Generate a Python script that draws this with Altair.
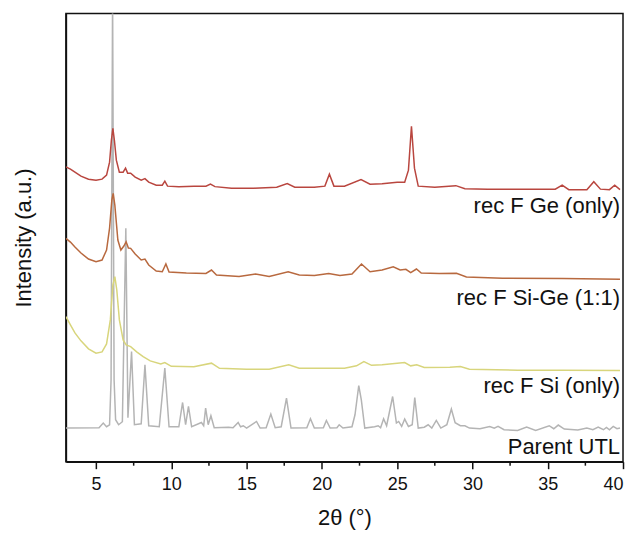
import altair as alt
import pandas as pd

# ---- data (2θ in degrees, stacked intensity in a.u.) ----
ge_x = [3.0, 3.3, 3.6, 4.0, 4.5, 5.0, 5.4, 5.7, 5.9, 6.02, 6.12, 6.22, 6.35, 6.55, 6.8, 6.96, 7.1, 7.3,
        7.6, 8.0, 8.25, 8.5, 9.0, 9.4, 9.57, 9.75, 10.5, 11.5, 12.3, 12.6, 12.9, 14.0, 15.5, 17.0, 17.7,
        18.2, 19.5, 20.2, 20.5, 20.8, 21.5, 22.6, 23.2, 24.0, 25.0, 25.5, 25.75, 25.95, 26.15, 26.4,
        27.5, 28.9, 29.5, 31.0, 33.0, 35.5, 35.96, 36.4, 37.6, 38.06, 38.5, 39.1, 39.45, 39.8]
ge_y = [295.3, 293, 290, 286, 283, 282, 283, 287, 300, 322, 334, 322, 302, 290, 290, 294, 289, 289,
        285, 282, 283.5, 280, 277, 277, 281, 276, 275.5, 276, 276, 278, 275.5, 274, 274, 275, 278.5,
        275, 275, 276, 288, 276, 276, 282.5, 278, 278.5, 280, 280, 292, 336, 294, 276,
        275, 276.5, 273.5, 273, 273, 273, 277, 272.5, 272.5, 280.5, 273, 272.5, 277, 272.5]

sige_x = [3.0, 3.3, 3.6, 4.0, 4.5, 5.0, 5.4, 5.7, 5.9, 6.05, 6.14, 6.25, 6.45, 6.65, 6.85, 7.0, 7.15,
          7.3, 7.6, 8.0, 8.25, 8.5, 9.0, 9.4, 9.64, 9.85, 11.0, 12.3, 12.67, 13.0, 14.5, 15.6, 16.5,
          17.76, 18.5, 19.5, 20.45, 21.2, 22.0, 22.63, 23.2, 24.0, 24.74, 25.2, 25.58, 25.9, 26.28,
          26.6, 27.8, 28.94, 29.6, 32.0, 36.0, 39.8]
sige_y = [223.7, 220, 215, 209, 203, 200.3, 202, 212, 234, 262, 268.7, 257, 222, 212, 216, 220.3, 214,
          213.7, 208, 202, 203, 197, 191, 190.3, 198, 190, 189, 188.5, 192, 187, 185.5, 188, 185.5,
          190.3, 187, 186.5, 188.5, 186.5, 188, 198, 190.3, 192, 195.3, 192, 192.7, 189.3, 193,
          189, 188.5, 188.7, 185, 183.7, 183.5, 182.7]

si_x = [3.0, 3.3, 3.6, 4.0, 4.5, 5.0, 5.4, 5.7, 5.95, 6.12, 6.25, 6.38, 6.55, 6.8, 7.0, 7.3, 7.7, 8.13,
        8.6, 9.3, 9.57, 10.0, 11.5, 12.67, 13.2, 15.0, 16.5, 17.8, 18.5, 20.0, 21.5, 22.3, 22.79, 23.3,
        24.0, 25.5, 25.9, 26.3, 26.8, 28.5, 29.2, 29.8, 33.0, 36.0, 39.8]
si_y = [145.3, 137, 129, 121, 113, 108.7, 110, 118, 142, 177, 185.3, 172, 142, 122, 117, 115.3, 110, 105.3,
        101, 98, 99.3, 95.5, 95, 98.7, 93.5, 92.7, 92.7, 97, 93.7, 93.5, 93.7, 96, 100.3, 96.5,
        97, 99.3, 96, 97, 94.3, 94.5, 95.3, 92.7, 91.7, 91.5, 91.3]

utl_x = [3.0, 5.2, 5.48, 5.7, 5.9, 6.0, 6.1, 6.2, 6.3, 6.5, 6.75, 6.98, 7.12, 7.36, 7.55, 8.0, 8.25, 8.5,
         9.2, 9.57, 9.85, 10.5, 10.75, 10.95, 11.14, 11.35, 12.0, 12.15, 12.28, 12.45, 12.63, 12.85,
         13.8, 14.1, 14.44, 14.6, 14.78, 15.0, 15.66, 15.9, 16.3, 16.61, 16.9, 17.3, 17.65, 17.95,
         19.0, 19.24, 19.5, 20.1, 20.3, 20.55, 21.0, 21.15, 21.4, 22.0, 22.2, 22.45, 22.62, 22.85,
         23.5, 23.74, 23.9, 24.1, 24.3, 24.7, 24.95, 25.1, 25.3, 25.5, 25.75, 26.0, 26.17, 26.4,
         26.8, 27.06, 27.3, 27.6, 27.9, 28.3, 28.6, 28.85, 29.2, 29.5, 29.8, 30.5, 31.15, 31.45,
         31.7, 32.1, 33.0, 33.6, 34.2, 35.1, 35.4, 35.7, 36.1, 37.0, 37.6, 38.0, 38.35, 38.7, 38.9,
         39.1, 39.35, 39.6, 39.8]
utl_y = [33.7, 34, 38.7, 35, 37, 82, 470, 82, 42, 37, 40, 233.7, 44, 110.3, 37, 38, 97, 36,
         35, 93.7, 35, 35, 59.3, 37, 55.3, 35, 39.3, 36, 53.7, 37, 46, 34,
         34.5, 34, 39.3, 35, 36, 33.7, 40.3, 33.7, 34, 47.7, 34, 35, 63.7, 33.7,
         34, 43, 33.7, 34, 41.3, 33.7, 34, 37, 33.7, 35, 47, 76.3, 62, 33.7,
         35, 36, 34, 43, 36, 65.3, 38.7, 40.3, 35.3, 42.7, 35.3, 37, 64.3, 33.7,
         34.5, 37, 33.7, 41.3, 33.7, 37, 52.7, 39, 36, 36, 33.7, 33, 35.3, 33.5,
         35.3, 32, 31.3, 34.7, 31.3, 36, 33, 36.7, 32.7, 31.7, 33.7, 32, 34.7, 32, 34.3,
         32, 35.3, 33, 33.7]

series_names = ["Parent UTL", "rec F Si (only)", "rec F Si-Ge (1:1)", "rec F Ge (only)"]
series_colors = ["#b4b4b4", "#d8d57c", "#b8693f", "#b9463f"]
label_y = [8, 68.7, 157, 248.7]

major_ticks = [5, 10, 15, 20, 25, 30, 35, 40]
minor_ticks = [7.5, 12.5, 17.5, 22.5, 27.5, 32.5, 37.5]

FONT = "Liberation Sans"

frames = []
for name, xs, ys in [("Parent UTL", utl_x, utl_y), ("rec F Si (only)", si_x, si_y),
                     ("rec F Si-Ge (1:1)", sige_x, sige_y), ("rec F Ge (only)", ge_x, ge_y)]:
    frames.append(pd.DataFrame({"theta": xs, "intensity": ys, "series": name}))
df = pd.concat(frames, ignore_index=True)

xscale = alt.Scale(domain=[3, 40], nice=False, zero=False)
yscale = alt.Scale(domain=[0, 449], nice=False, zero=False)
cscale = alt.Scale(domain=series_names, range=series_colors)

xaxis = alt.Axis(values=major_ticks, title="2θ (°)", labelFont=FONT, labelFontSize=18,
                 labelColor="#111", labelPadding=7, tickSize=7, tickWidth=1.5, tickColor="#111",
                 domainColor="#111", domainWidth=1.5, grid=False, titleFont=FONT,
                 titleFontSize=22, titleFontWeight="normal", titleColor="#111", titlePadding=14)
yaxis = alt.Axis(title="Intensity (a.u.)", labels=False, ticks=False, grid=False,
                 domainColor="#111", domainWidth=1.5, titleFont=FONT, titleFontSize=22,
                 titleFontWeight="normal", titleColor="#111", titlePadding=30)

layers = []
for name in series_names:
    layer = alt.Chart(df).transform_filter(alt.datum.series == name).mark_line(
        strokeWidth=1.5, clip=True, interpolate="linear"
    ).encode(
        x=alt.X("theta:Q", scale=xscale, axis=xaxis),
        y=alt.Y("intensity:Q", scale=yscale, axis=yaxis),
        color=alt.Color("series:N", scale=cscale, legend=None),
    )
    layers.append(layer)

labels_df = pd.DataFrame({"label": series_names, "ly": label_y})
labels = alt.Chart(labels_df).mark_text(
    align="right", baseline="alphabetic", font=FONT, fontSize=22, color="#111"
).encode(
    x=alt.value(555),
    y=alt.Y("ly:Q", scale=yscale, axis=yaxis),
    text="label:N",
)

minor_df = pd.DataFrame({"m": minor_ticks})
minor = alt.Chart(minor_df).mark_rule(color="#111", strokeWidth=1.5, clip=False).encode(
    x=alt.X("m:Q", scale=xscale, axis=xaxis),
    y=alt.value(449),
    y2=alt.value(453),
)

chart = alt.layer(*layers, labels, minor).properties(
    width=558, height=449, autosize="none", background="white",
    padding={"left": 58, "top": 5, "right": 5, "bottom": 71},
).configure_view(stroke="#111", strokeWidth=1.5)

chart.save("out.html", embed_options={"renderer": "svg", "actions": False})
